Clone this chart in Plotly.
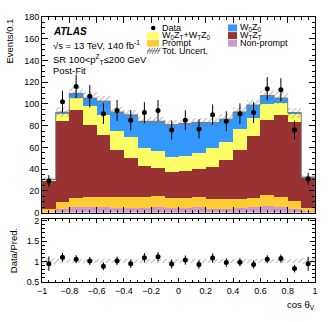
import plotly.graph_objects as go

# ---------------- data ----------------
bin_centers = [-0.95, -0.85, -0.75, -0.65, -0.55, -0.45, -0.35, -0.25, -0.15, -0.05,
               0.05, 0.15, 0.25, 0.35, 0.45, 0.55, 0.65, 0.75, 0.85, 0.95]
bin_width = 0.1
nonprompt = [0.3, 3, 5.5, 5, 5, 4.5, 4.5, 4, 5.5, 4, 4.5, 5, 3.5, 3.5, 4, 5.5, 6, 5.5, 3, 1.5]
prompt = [3.3, 7, 8, 9.1, 9.7, 9.7, 9.7, 10.2, 9.3, 9.5, 9, 9.2, 9.1, 8.8, 8.6, 7.7, 9.7, 9.2, 8, 3]
wtzt = [25.9, 73.9, 80.5, 66.1, 56.3, 43, 36.3, 28.3, 26.4, 23.5, 24.5, 25.5, 29.2, 36.3, 44.6, 57.3,
        69.1, 75.3, 72.3, 27.5]
w0zt_wtz0 = [0.9, 7.6, 11.7, 17.5, 18.4, 17.4, 19, 16.9, 15.1, 14, 14.3, 15.3, 17.6, 16.4, 19.4, 16.9,
             15.4, 10.8, 8.2, 0.5]
w0z0 = [0.2, 0.9, 4, 7.7, 13.2, 17.9, 20.5, 24.6, 27.7, 30, 29.7, 28, 23.4, 21, 16, 11.6, 7.6, 4.6, 0.3, 0.2]
data = [29, 102, 116, 107, 91, 94, 85, 92, 94, 76, 85, 77, 90, 84, 91, 92, 114, 113, 76, 31]
data_err = [5.4, 10.1, 10.8, 10.3, 9.5, 9.7, 9.2, 9.6, 9.7, 8.7, 9.2, 8.8, 9.5, 9.2, 9.5, 9.6, 10.7, 10.6, 8.7, 5.6]
unc_rel = [0.07, 0.05, 0.05, 0.05, 0.05, 0.05, 0.05, 0.05, 0.05, 0.05,
           0.05, 0.05, 0.05, 0.05, 0.05, 0.05, 0.05, 0.05, 0.05, 0.07]
x_ticks = [-1, -0.8, -0.6, -0.4, -0.2, 0, 0.2, 0.4, 0.6, 0.8, 1]

# ---------------- derived ----------------
total = [a + b + c + d + e for a, b, c, d, e in zip(nonprompt, prompt, wtzt, w0zt_wtz0, w0z0)]
unc_abs = [t * u for t, u in zip(total, unc_rel)]
ratio = [d / t for d, t in zip(data, total)]
ratio_err = [e / t for e, t in zip(data_err, total)]

C_NP = "#cc99cc"
C_PR = "#ffcc33"
C_TT = "#993333"
C_0T = "#ffff66"
C_00 = "#3399ff"
FONT = "Liberation Sans, Arial, sans-serif"

W, H = 332, 322
L, R, T, B = 42, 17, 15, 40
pw, ph = W - L - R, H - T - B


def px(xp):
    return (xp - L) / pw


def py(yp):
    return (H - B - yp) / ph


fig = go.Figure()

# stacked histogram
for name, vals, col in [("Non-prompt", nonprompt, C_NP), ("Prompt", prompt, C_PR),
                        ("WTZT", wtzt, C_TT), ("W0ZT+WTZ0", w0zt_wtz0, C_0T), ("W0Z0", w0z0, C_00)]:
    fig.add_trace(go.Bar(x=bin_centers, y=vals, width=bin_width, marker=dict(color=col, line=dict(width=0)),
                         name=name, showlegend=False, xaxis="x", yaxis="y"))

# total outline (step)
step_x, step_y = [bin_centers[0] - bin_width / 2], [0]
for c, t in zip(bin_centers, total):
    step_x += [c - bin_width / 2, c + bin_width / 2]
    step_y += [t, t]
step_x.append(bin_centers[-1] + bin_width / 2)
step_y.append(0)
fig.add_trace(go.Scatter(x=step_x, y=step_y, mode="lines", line=dict(color="#7f7f7f", width=1),
                         showlegend=False, xaxis="x", yaxis="y", hoverinfo="skip"))

# uncertainty hatch (top)
hatch = dict(shape="/", fgcolor="#666666", bgcolor="rgba(0,0,0,0)", size=4, solidity=0.25)
fig.add_trace(go.Bar(x=bin_centers, y=[2 * u for u in unc_abs], base=[t - u for t, u in zip(total, unc_abs)],
                     width=bin_width, marker=dict(color="rgba(0,0,0,0)", line=dict(width=0), pattern=hatch),
                     showlegend=False, xaxis="x", yaxis="y"))

# data
fig.add_trace(go.Scatter(x=bin_centers, y=data, mode="markers",
                         marker=dict(color="black", size=5),
                         error_y=dict(type="data", array=data_err, color="black", thickness=1, width=0),
                         showlegend=False, xaxis="x", yaxis="y"))

# ratio band
fig.add_trace(go.Bar(x=bin_centers, y=[2 * u for u in unc_rel], base=[1 - u for u in unc_rel],
                     width=bin_width, marker=dict(color="rgba(0,0,0,0)", line=dict(width=0), pattern=hatch),
                     showlegend=False, xaxis="x2", yaxis="y2"))
fig.add_trace(go.Scatter(x=bin_centers, y=ratio, mode="markers",
                         marker=dict(color="black", size=5),
                         error_y=dict(type="data", array=ratio_err, color="black", thickness=1, width=0),
                         showlegend=False, xaxis="x2", yaxis="y2"))

axis_common = dict(showline=True, linecolor="black", linewidth=1, mirror="ticks", ticks="inside",
                   tickcolor="black", showgrid=False, zeroline=False,
                   tickfont=dict(family=FONT, size=9, color="black"))

top_dom = [py(212), 1]
bot_dom = [0, py(219)]

fig.update_layout(
    width=W, height=H, margin=dict(l=L, r=R, t=T, b=B),
    paper_bgcolor="white", plot_bgcolor="white", barmode="stack", bargap=0,
    showlegend=False,
    xaxis=dict(domain=[0, 1], range=[-1, 1], anchor="y", tickvals=x_ticks, showticklabels=False,
               ticklen=6, minor=dict(dtick=0.05, ticklen=3, ticks="inside", tickcolor="black"),
               **axis_common),
    yaxis=dict(domain=top_dom, range=[0, 180], anchor="x", dtick=20, ticklen=6,
               minor=dict(dtick=5, ticklen=3, ticks="inside", tickcolor="black"), **axis_common),
    xaxis2=dict(domain=[0, 1], range=[-1, 1], anchor="y2", tickvals=x_ticks, ticklen=4,
                minor=dict(dtick=0.05, ticklen=2, ticks="inside", tickcolor="black"), **axis_common),
    yaxis2=dict(domain=bot_dom, range=[0.5, 2.03], anchor="x2", tickvals=[0.5, 1, 1.5, 2], ticklen=5,
                minor=dict(dtick=0.1, ticklen=3, ticks="inside", tickcolor="black"), **axis_common),
)

ann = []


def text(x, y, s, size=9.5, xanchor="left", yanchor="middle", angle=0):
    ann.append(dict(x=px(x), y=py(y), xref="paper", yref="paper", text=s, showarrow=False,
                    xanchor=xanchor, yanchor=yanchor, textangle=angle,
                    font=dict(family=FONT, size=size, color="black")))


text(51, 29.5, "<b><i>ATLAS</i></b>", size=10)
text(51, 43.5, "√s = 13 TeV, 140 fb<sup>-1</sup>", size=9.5)
text(51, 57.5, "SR 100&lt;p<sup>Z</sup><sub>T</sub>≤200 GeV", size=9.5)
text(51, 68.5, "Post-Fit", size=9.5)
text(9, 15, "Events/0.1", size=9.5, xanchor="center", yanchor="top", angle=-90)
text(13, 251, "Data/Pred.", size=9.5, xanchor="center", angle=-90)
text(317, 305, "cos θ<sub>V</sub>", size=9.5, xanchor="right")

# legend (manual)
rows = [26, 33.7, 41.4, 49.1]
LS = 9
text(160, rows[0], "Data", size=LS)
text(160, rows[1], "W<sub>0</sub>Z<sub>T</sub>+W<sub>T</sub>Z<sub>0</sub>", size=LS)
text(160, rows[2], "Prompt", size=LS)
text(160, rows[3], "Tot. Uncert.", size=LS)
text(238, rows[0], "W<sub>0</sub>Z<sub>0</sub>", size=LS)
text(238, rows[1], "W<sub>T</sub>Z<sub>T</sub>", size=LS)
text(238, rows[2], "Non-prompt", size=LS)
fig.update_layout(annotations=ann)

shapes = []


def box(x0, x1, yc, col, h=7):
    shapes.append(dict(type="rect", xref="paper", yref="paper", x0=px(x0), x1=px(x1),
                       y0=py(yc + h / 2), y1=py(yc - h / 2), fillcolor=col, line=dict(width=0)))


shapes.append(dict(type="circle", xref="paper", yref="paper", x0=px(151), x1=px(155.5),
                   y0=py(rows[0] + 2.3), y1=py(rows[0] - 2.3), fillcolor="black", line=dict(width=0)))
box(147, 159, rows[1], C_0T)
box(147, 159, rows[2], C_PR)
box(228, 237, rows[0], C_00)
box(228, 237, rows[1], C_TT)
box(228, 237, rows[2], C_NP)
# hatch legend symbol
for k in range(5):
    x0 = 147 + k * 2.6
    shapes.append(dict(type="line", xref="paper", yref="paper", x0=px(x0), x1=px(x0 + 3),
                       y0=py(rows[3] + 3), y1=py(rows[3] - 3), line=dict(color="#777777", width=1)))
shapes.append(dict(type="line", xref="paper", yref="paper", x0=px(147), x1=px(159.5),
                   y0=py(rows[3]), y1=py(rows[3]), line=dict(color="#7f7f7f", width=1)))
fig.update_layout(shapes=shapes)

fig.write_html("out.html", config={"displayModeBar": False},
               post_script="document.body.style.margin='0';")
